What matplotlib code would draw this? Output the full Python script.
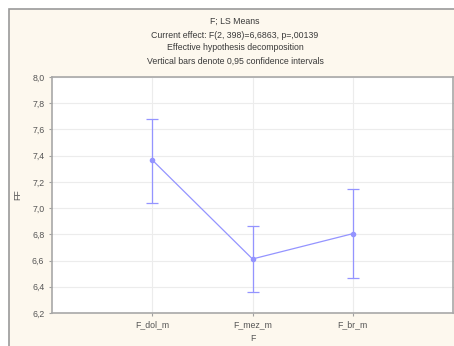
import matplotlib.pyplot as plt
import matplotlib as mpl
from matplotlib.patches import Rectangle

mpl.rcParams['font.family'] = ['Liberation Sans', 'DejaVu Sans']

# data
categories = ['F_dol_m', 'F_mez_m', 'F_br_m']
means = [7.367, 6.612, 6.805]
upper = [7.68, 6.863, 7.146]
lower = [7.04, 6.358, 6.464]
yticks = [6.2, 6.4, 6.6, 6.8, 7.0, 7.2, 7.4, 7.6, 7.8, 8.0]
ytick_labels = ['6,2', '6,4', '6,6', '6,8', '7,0', '7,2', '7,4', '7,6', '7,8', '8,0']
title_lines = ['F; LS Means',
               'Current effect: F(2, 398)=6,6863, p=,00139',
               'Effective hypothesis decomposition',
               'Vertical bars denote 0,95 confidence intervals']

bg = '#fdf8ee'
line_col = '#9494ff'
txt_col = '#555555'

W, H = 454, 346
fig = plt.figure(figsize=(W/100, H/100), dpi=100)
fig.patch.set_facecolor('white')

# cream panel with grey border (left and top visible)
fig.patches.append(Rectangle((9/W, -0.05), 1.0, (H-9)/H + 0.05, transform=fig.transFigure,
                             facecolor=bg, edgecolor='#9a9a9a', linewidth=1.2, zorder=-5))

ax = fig.add_axes([52/W, 1-313/H, 401/W, (313-77)/H])
ax.set_zorder(2)
ax.set_facecolor('white')

x = list(range(1, len(categories)+1))
yerr = [[m - l for m, l in zip(means, lower)], [u - m for m, u in zip(means, upper)]]
ax.errorbar(x, means, yerr=yerr, color=line_col, lw=0.9, marker='o', ms=3,
            mfc=line_col, mec=line_col, capsize=4.5, capthick=0.9, elinewidth=0.9, zorder=3)

ax.set_xlim(0, 4)
ax.set_ylim(6.2, 8.0)
ax.set_xticks(x)
ax.set_xticklabels(categories)
ax.set_yticks(yticks)
ax.set_yticklabels(ytick_labels)
ax.grid(True, color='#ececec', lw=0.8)
ax.set_axisbelow(True)
ax.tick_params(labelsize=6.3, colors='#a0a0a0', labelcolor=txt_col, length=2.5, width=0.8, pad=3)
ax.tick_params(axis='y', right=True)
for s in ax.spines.values():
    s.set_color('#a8a8a8')
    s.set_linewidth(1.2)

ax.set_ylabel('FF', fontsize=6.3, color=txt_col)
ax.yaxis.set_label_coords(-0.075, 0.5)
ax.set_xlabel('F', fontsize=6.3, color=txt_col, labelpad=3)

ys = [21, 35, 48, 61]
for t, yy in zip(title_lines, ys):
    fig.text(235/W, 1-yy/H, t, ha='center', va='center', fontsize=6.3, color='#3a3a3a')

fig.savefig('out.png', dpi=100, facecolor=fig.get_facecolor())
